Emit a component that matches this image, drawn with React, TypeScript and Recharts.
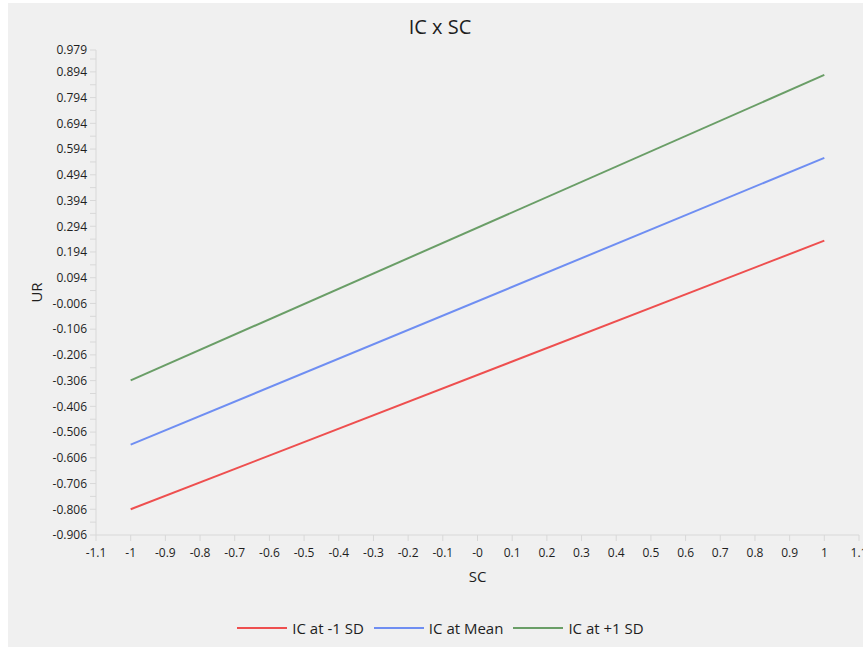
import React from 'react'
import { LineChart, Line, XAxis, YAxis, Legend } from 'recharts'

const scValues = [-1, 1]
const icLow = [-0.806, 0.238]
const icMean = [-0.555, 0.56]
const icHigh = [-0.305, 0.882]

const yMajorTicks = [0.979, 0.894, 0.794, 0.694, 0.594, 0.494, 0.394, 0.294, 0.194, 0.094, -0.006, -0.106, -0.206, -0.306, -0.406, -0.506, -0.606, -0.706, -0.806, -0.906]
const yMinorTicks = [0.944, 0.844, 0.744, 0.644, 0.544, 0.444, 0.344, 0.244, 0.144, 0.044, -0.056, -0.156, -0.256, -0.356, -0.456, -0.556, -0.656, -0.756, -0.856]
const xTicks = [-1.1, -1, -0.9, -0.8, -0.7, -0.6, -0.5, -0.4, -0.3, -0.2, -0.1, 0, 0.1, 0.2, 0.3, 0.4, 0.5, 0.6, 0.7, 0.8, 0.9, 1, 1.1]
const xTickLabels = ['-1.1', '-1', '-0.9', '-0.8', '-0.7', '-0.6', '-0.5', '-0.4', '-0.3', '-0.2', '-0.1', '-0', '0.1', '0.2', '0.3', '0.4', '0.5', '0.6', '0.7', '0.8', '0.9', '1', '1.1']

const SERIES = [
  { key: 'low',  name: 'IC at -1 SD',  color: '#EE4F4F', values: icLow },
  { key: 'mean', name: 'IC at Mean',   color: '#6F8EF2', values: icMean },
  { key: 'high', name: 'IC at +1 SD',  color: '#6A9E67', values: icHigh },
]

const data = scValues.map((sc, i) => ({
  sc,
  low: icLow[i],
  mean: icMean[i],
  high: icHigh[i],
}))

const FONT = '"Open Sans", "Noto Sans", sans-serif'
const AXIS = '#d8d8d8'
const TEXT = '#1e1e1e'

const yTicks = [...yMajorTicks, ...yMinorTicks].sort((a, b) => b - a)

function fmtY(v: number) {
  return yMajorTicks.includes(v) ? v.toFixed(3) : ''
}

function fmtX(v: number) {
  const i = xTicks.indexOf(v)
  return i >= 0 ? xTickLabels[i] : String(v)
}

function renderLegend() {
  return (
    <div style={{ display: 'flex', justifyContent: 'center', alignItems: 'center', gap: 10, height: 20, paddingLeft: 14, fontFamily: FONT, fontSize: 15, color: TEXT }}>
      {SERIES.map((s) => (
        <div key={s.key} style={{ display: 'flex', alignItems: 'center' }}>
          <div style={{ width: 50, height: 2, background: s.color, marginRight: 5 }} />
          <span>{s.name}</span>
        </div>
      ))}
    </div>
  )
}

export default function App() {
  return (
    <div style={{ position: 'absolute', left: 8, top: 3, width: 864, height: 644, background: '#f0f0f0', fontFamily: FONT }}>
      <div style={{ position: 'absolute', top: 10, width: '100%', textAlign: 'center', fontSize: 20, color: TEXT }}>
        IC x SC
      </div>
      <LineChart width={864} height={644} data={data} margin={{ top: 47, right: 13, left: 0, bottom: 9 }}>
        <XAxis
          type="number"
          dataKey="sc"
          domain={[-1.1, 1.1]}
          ticks={xTicks}
          tickFormatter={fmtX}
          interval={0}
          allowDataOverflow
          height={83}
          tickSize={6}
          tickMargin={7}
          stroke={AXIS}
          tick={{ fill: TEXT, fontSize: 12, fontFamily: FONT }}
          label={{ value: 'SC', position: 'insideTop', offset: 36, fill: TEXT, fontSize: 15, fontFamily: FONT }}
        />
        <YAxis
          type="number"
          domain={[-0.906, 0.979]}
          ticks={yTicks}
          tickFormatter={fmtY}
          interval={0}
          allowDataOverflow
          width={88}
          tickSize={6}
          tickMargin={3}
          stroke={AXIS}
          tick={{ fill: TEXT, fontSize: 12, fontFamily: FONT }}
          label={{ value: 'UR', angle: -90, position: 'insideLeft', offset: 29, fill: TEXT, fontSize: 15, fontFamily: FONT, style: { textAnchor: 'middle' } }}
        />
        <Legend verticalAlign="bottom" content={renderLegend} />
        {SERIES.map((s) => (
          <Line
            key={s.key}
            type="linear"
            dataKey={s.key}
            name={s.name}
            stroke={s.color}
            strokeWidth={2}
            dot={false}
            isAnimationActive={false}
          />
        ))}
      </LineChart>
    </div>
  )
}
